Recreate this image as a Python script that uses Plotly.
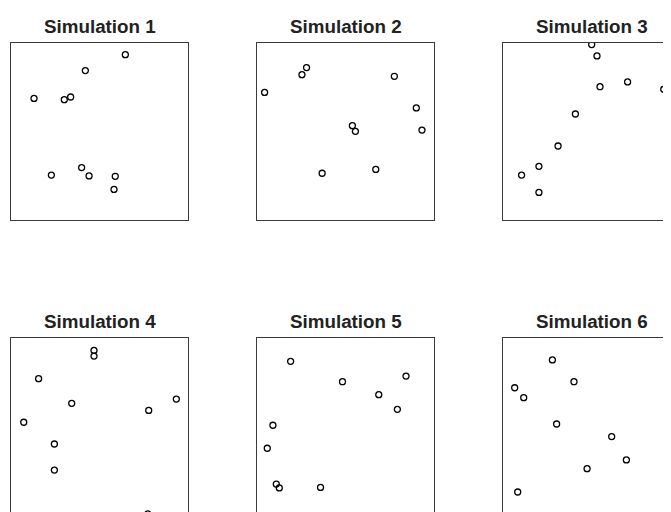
import plotly.graph_objects as go

titles = ["Simulation 1", "Simulation 2", "Simulation 3",
          "Simulation 4", "Simulation 5", "Simulation 6"]

sim1_x = [0.646, 0.420, 0.130, 0.301, 0.337, 0.228, 0.399, 0.441, 0.589, 0.582]
sim1_y = [0.934, 0.844, 0.687, 0.680, 0.695, 0.254, 0.296, 0.249, 0.247, 0.173]

sim2_x = [0.280, 0.254, 0.043, 0.776, 0.900, 0.932, 0.539, 0.556, 0.368, 0.671]
sim2_y = [0.861, 0.821, 0.721, 0.812, 0.633, 0.508, 0.533, 0.501, 0.264, 0.286]

sim3_x = [0.501, 0.531, 0.548, 0.704, 0.908, 0.409, 0.311, 0.203, 0.105, 0.203]
sim3_y = [0.991, 0.927, 0.753, 0.780, 0.738, 0.599, 0.418, 0.303, 0.254, 0.156]

sim4_x = [0.469, 0.469, 0.156, 0.343, 0.072, 0.778, 0.934, 0.245, 0.245, 0.773]
sim4_y = [0.930, 0.898, 0.770, 0.631, 0.524, 0.591, 0.655, 0.401, 0.254, 0.006]

sim5_x = [0.190, 0.483, 0.842, 0.688, 0.793, 0.090, 0.058, 0.109, 0.126, 0.359]
sim5_y = [0.868, 0.753, 0.785, 0.680, 0.597, 0.507, 0.377, 0.175, 0.153, 0.156]

sim6_x = [0.279, 0.401, 0.066, 0.117, 0.303, 0.614, 0.697, 0.475, 0.083, 0.955]
sim6_y = [0.876, 0.753, 0.719, 0.663, 0.514, 0.443, 0.311, 0.262, 0.130, 0.768]

xs = [sim1_x, sim2_x, sim3_x, sim4_x, sim5_x, sim6_x]
ys = [sim1_y, sim2_y, sim3_y, sim4_y, sim5_y, sim6_y]

# page body has an 8px margin, so the figure is laid out in page pixels minus 8
OFF = 8
W, H = 671 - OFF, 512 - OFF
col_left = [11 - OFF, 257 - OFF, 503 - OFF]
row_top = [43 - OFF, 338 - OFF]
box = 177
line_col = "#3a3a3a"

fig = go.Figure()
layout = dict(width=W, height=H, margin=dict(l=0, r=0, t=0, b=0),
              paper_bgcolor="white", plot_bgcolor="white", showlegend=False)
annotations = []

for i in range(6):
    r, c = divmod(i, 3)
    n = i + 1
    left = col_left[c]
    right = left + box
    top = row_top[r]
    bottom = top + box
    xr_end = min(right, W)
    yb_end = min(bottom, H)
    xdom = [left / W, xr_end / W]
    ydom = [1 - yb_end / H, 1 - top / H]
    xrange = [0, (xr_end - left) / box]
    yrange = [(bottom - yb_end) / box, 1]
    cut_right = right > W
    cut_bottom = bottom > H

    fig.add_trace(go.Scatter(
        x=xs[i], y=ys[i], mode="markers",
        marker=dict(symbol="circle-open", size=6, color="black",
                    line=dict(width=1.3, color="black")),
        xaxis=f"x{n}", yaxis=f"y{n}", hoverinfo="skip"))

    layout[f"xaxis{n}"] = dict(
        domain=xdom, range=xrange, anchor=f"y{n}",
        showgrid=False, zeroline=False, showticklabels=False, ticks="",
        showline=True, linecolor=line_col, linewidth=1.2,
        mirror=(not cut_bottom), side=("top" if cut_bottom else "bottom"),
        fixedrange=True)
    layout[f"yaxis{n}"] = dict(
        domain=ydom, range=yrange, anchor=f"x{n}",
        showgrid=False, zeroline=False, showticklabels=False, ticks="",
        showline=True, linecolor=line_col, linewidth=1.2,
        mirror=(not cut_right), side="left", fixedrange=True)

    annotations.append(dict(
        text=f"<b>{titles[i]}</b>", xref="paper", yref="paper",
        x=(left + box / 2) / W, y=1 - (top - 4) / H,
        xanchor="center", yanchor="bottom", showarrow=False,
        font=dict(family="Liberation Sans, Arial, sans-serif", size=18.8,
                  color="#222222")))

layout["annotations"] = annotations
fig.update_layout(**layout)
fig.write_html("out.html")
